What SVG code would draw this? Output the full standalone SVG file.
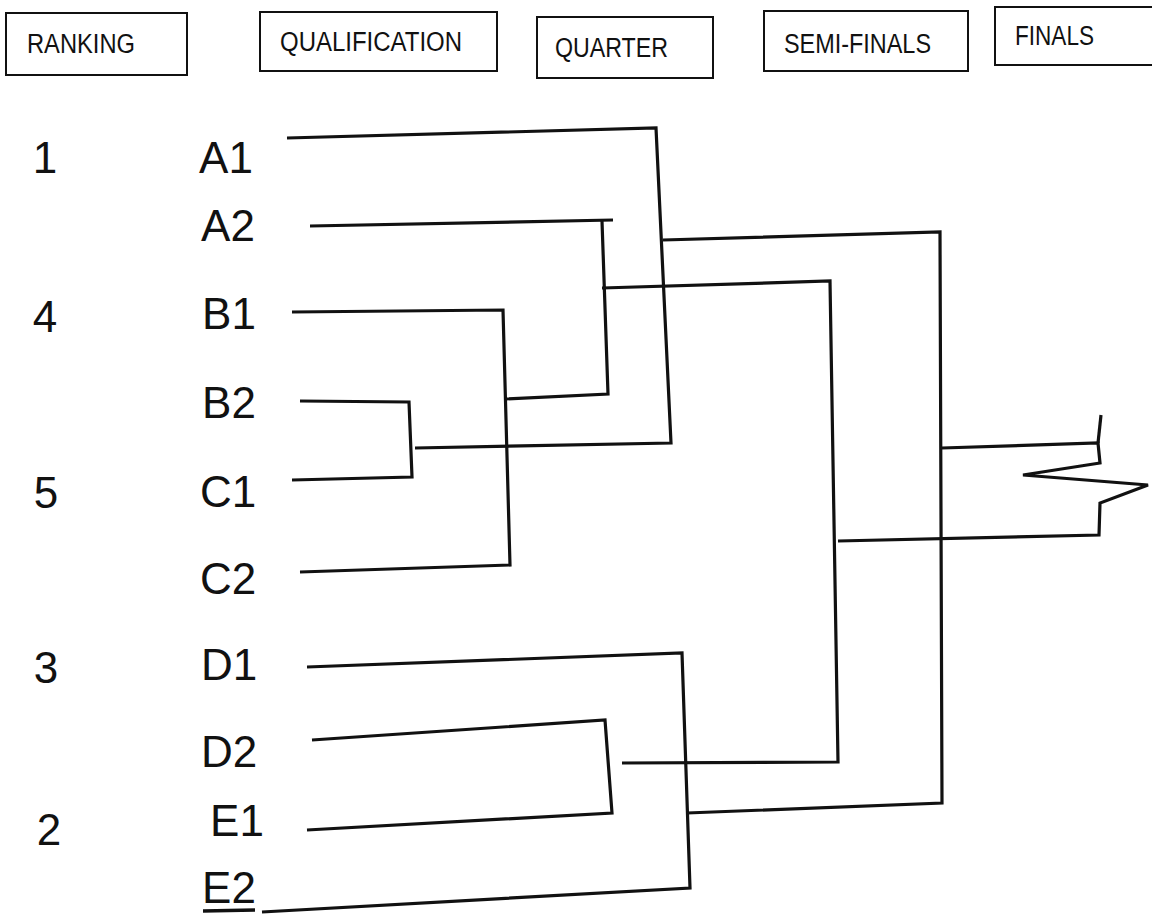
<svg xmlns="http://www.w3.org/2000/svg" width="1152" height="915" viewBox="0 0 1152 915">
<style>
.box{fill:#fff;stroke:#111;stroke-width:2}
.ht{font-family:"Liberation Sans",Arial,sans-serif;font-size:27px;fill:#111}
.lb{font-family:"Liberation Sans",Arial,sans-serif;font-size:44px;fill:#111;text-anchor:middle}
.ln{fill:none;stroke:#111;stroke-width:3.2;stroke-linejoin:miter;stroke-linecap:butt}
</style>
<rect width="1152" height="915" fill="#fff"/>
<g id="hdr-ranking"><rect class="box" x="6" y="13" width="181" height="62"/><text class="ht" x="27" y="53" textLength="108" lengthAdjust="spacingAndGlyphs">RANKING</text></g>
<g id="hdr-qualification"><rect class="box" x="260" y="12" width="237" height="59"/><text class="ht" x="280" y="51" textLength="182" lengthAdjust="spacingAndGlyphs">QUALIFICATION</text></g>
<g id="hdr-quarter"><rect class="box" x="537" y="17" width="176" height="61"/><text class="ht" x="555" y="57" textLength="113" lengthAdjust="spacingAndGlyphs">QUARTER</text></g>
<g id="hdr-semi"><rect class="box" x="764" y="11" width="204" height="60"/><text class="ht" x="784" y="53" textLength="147" lengthAdjust="spacingAndGlyphs">SEMI-FINALS</text></g>
<g id="hdr-finals"><rect class="box" x="995" y="7" width="170" height="58"/><text class="ht" x="1015" y="45" textLength="79" lengthAdjust="spacingAndGlyphs">FINALS</text></g>

<g id="rank-1"><text class="lb" x="45" y="173">1</text></g>
<g id="rank-4"><text class="lb" x="45" y="332">4</text></g>
<g id="rank-5"><text class="lb" x="46" y="508">5</text></g>
<g id="rank-3"><text class="lb" x="46" y="683">3</text></g>
<g id="rank-2"><text class="lb" x="49" y="845">2</text></g>

<g id="team-A1"><text class="lb" x="226" y="173">A1</text></g>
<g id="team-A2"><text class="lb" x="228" y="241">A2</text></g>
<g id="team-B1"><text class="lb" x="229" y="329">B1</text></g>
<g id="team-B2"><text class="lb" x="229" y="418">B2</text></g>
<g id="team-C1"><text class="lb" x="228" y="507">C1</text></g>
<g id="team-C2"><text class="lb" x="228" y="594">C2</text></g>
<g id="team-D1"><text class="lb" x="229" y="680">D1</text></g>
<g id="team-D2"><text class="lb" x="229" y="767">D2</text></g>
<g id="team-E1"><text class="lb" x="237" y="836">E1</text></g>
<g id="team-E2"><text class="lb" x="229" y="903">E2</text><line x1="203" y1="911" x2="255" y2="910" stroke="#111" stroke-width="3.5"/></g>

<g id="connectors">
<!-- A1 vs (B2/C1) -->
<polyline class="ln" points="287,138 656,128 671,443 415,448"/>
<!-- B2 vs C1 -->
<polyline class="ln" points="300,401 409,402 412,477 292,480"/>
<!-- B1 vs C2 -->
<polyline class="ln" points="292,312 503,310 510,565 300,572"/>
<!-- A2 vs (B1/C2) -->
<polyline class="ln" points="310,226 613,220"/>
<polyline class="ln" points="602,221 608,394 505,399"/>
<!-- D1 vs E2 -->
<polyline class="ln" points="307,667 682,653 690,888 262,912"/>
<!-- D2 vs E1 -->
<polyline class="ln" points="312,740 605,720 612,813 307,830"/>
<!-- semi-final left -->
<polyline class="ln" points="602,288 830,281 838,762 622,763"/>
<!-- semi-final right -->
<polyline class="ln" points="663,240 940,232 942,803 687,813"/>
<!-- final -->
<polyline class="ln" points="942,448 1098,443 1100,463 1023,475 1148,485 1100,503 1099,535 838,541"/>
<polyline class="ln" points="1098,443 1101,415" stroke-width="4"/>
</g>
</svg>
